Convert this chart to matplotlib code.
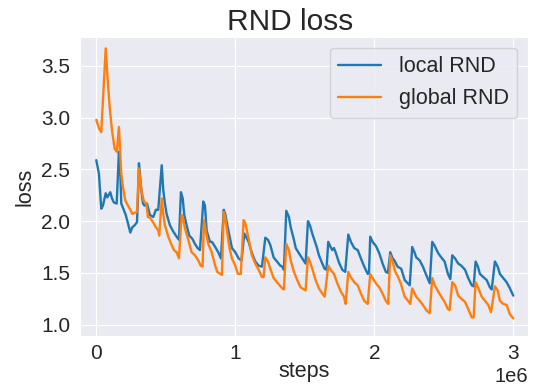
import matplotlib
matplotlib.use("Agg")
from matplotlib import pyplot as plt
import numpy as np
import seaborn as sns

# steps in millions
local_steps = np.array([
    0.000, 0.019, 0.036, 0.048, 0.068, 0.079, 0.101, 0.113, 0.127, 0.147,
    0.163, 0.173, 0.180, 0.197, 0.212, 0.228, 0.245, 0.259, 0.276, 0.293,
    0.300, 0.307, 0.314, 0.324, 0.336, 0.348, 0.365, 0.386, 0.410, 0.429,
    0.446, 0.471, 0.482, 0.494, 0.506, 0.530, 0.554, 0.578, 0.595, 0.609,
    0.622, 0.633, 0.650, 0.669, 0.691, 0.710, 0.729, 0.746, 0.770, 0.782,
    0.794, 0.818, 0.832, 0.856, 0.881, 0.897, 0.917, 0.928, 0.940, 0.964,
    0.976, 1.000, 1.024, 1.045, 1.065, 1.077, 1.096, 1.120, 1.144, 1.168,
    1.192, 1.216, 1.235, 1.252, 1.276, 1.300, 1.324, 1.338, 1.350, 1.367,
    1.386, 1.399, 1.422, 1.435, 1.458, 1.482, 1.506, 1.523, 1.537, 1.554,
    1.566, 1.586, 1.602, 1.626, 1.643, 1.656, 1.669, 1.686, 1.698, 1.710,
    1.722, 1.746, 1.770, 1.791, 1.813, 1.832, 1.856, 1.881, 1.904, 1.928,
    1.953, 1.962, 1.971, 1.988, 2.012, 2.036, 2.060, 2.083, 2.098, 2.115,
    2.132, 2.145, 2.168, 2.194, 2.219, 2.255, 2.273, 2.289, 2.302, 2.327,
    2.350, 2.374, 2.399, 2.417, 2.435, 2.460, 2.482, 2.506, 2.530, 2.547,
    2.561, 2.581, 2.604, 2.626, 2.653, 2.676, 2.701, 2.715, 2.729, 2.746,
    2.760, 2.784, 2.809, 2.832, 2.845, 2.868, 2.888, 2.904, 2.928, 2.952,
    2.976, 3.000,
])
local_loss = np.array([
    2.59, 2.46, 2.12, 2.15, 2.27, 2.23, 2.28, 2.22, 2.18, 2.17,
    2.67, 2.46, 2.17, 2.11, 2.06, 1.98, 1.89, 1.94, 1.96, 1.99,
    2.23, 2.56, 2.46, 2.30, 2.17, 2.15, 2.17, 2.06, 2.04, 2.11,
    2.11, 2.54, 2.30, 2.17, 2.07, 1.96, 1.90, 1.85, 1.82, 2.28,
    2.22, 2.06, 1.96, 1.86, 1.83, 1.78, 1.74, 1.72, 2.19, 2.15,
    1.91, 1.80, 1.80, 1.75, 1.69, 1.64, 2.11, 2.07, 1.98, 1.82,
    1.74, 1.70, 1.64, 1.62, 1.88, 1.85, 1.80, 1.69, 1.61, 1.57,
    1.56, 1.84, 1.82, 1.77, 1.65, 1.61, 1.57, 1.56, 1.53, 2.10,
    2.04, 1.94, 1.82, 1.74, 1.69, 1.64, 1.59, 2.00, 1.96, 1.88,
    1.83, 1.75, 1.67, 1.59, 1.54, 1.53, 1.80, 1.75, 1.72, 1.74,
    1.70, 1.60, 1.53, 1.51, 1.87, 1.80, 1.74, 1.72, 1.64, 1.56,
    1.49, 1.50, 1.85, 1.80, 1.76, 1.69, 1.59, 1.51, 1.50, 1.70,
    1.64, 1.62, 1.56, 1.54, 1.43, 1.38, 1.75, 1.70, 1.65, 1.62,
    1.56, 1.48, 1.40, 1.80, 1.76, 1.69, 1.65, 1.61, 1.49, 1.44,
    1.67, 1.64, 1.59, 1.57, 1.53, 1.45, 1.38, 1.37, 1.61, 1.56,
    1.49, 1.46, 1.43, 1.36, 1.34, 1.61, 1.56, 1.49, 1.45, 1.41,
    1.35, 1.28,
])

global_steps = np.array([
    0.000, 0.019, 0.036, 0.068, 0.079, 0.096, 0.113, 0.132, 0.148, 0.163,
    0.173, 0.180, 0.192, 0.209, 0.228, 0.245, 0.259, 0.276, 0.293, 0.307,
    0.316, 0.329, 0.343, 0.360, 0.372, 0.389, 0.408, 0.429, 0.446, 0.453,
    0.471, 0.482, 0.494, 0.518, 0.542, 0.559, 0.578, 0.595, 0.614, 0.624,
    0.638, 0.662, 0.686, 0.710, 0.734, 0.751, 0.765, 0.775, 0.787, 0.806,
    0.830, 0.856, 0.870, 0.892, 0.904, 0.917, 0.928, 0.940, 0.957, 0.976,
    1.000, 1.019, 1.040, 1.060, 1.072, 1.096, 1.120, 1.144, 1.168, 1.192,
    1.204, 1.216, 1.235, 1.252, 1.276, 1.300, 1.338, 1.350, 1.367, 1.386,
    1.399, 1.422, 1.446, 1.470, 1.506, 1.523, 1.537, 1.554, 1.578, 1.602,
    1.626, 1.643, 1.669, 1.686, 1.710, 1.734, 1.759, 1.782, 1.794, 1.813,
    1.830, 1.856, 1.881, 1.904, 1.928, 1.953, 1.971, 1.988, 2.012, 2.036,
    2.060, 2.083, 2.100, 2.115, 2.132, 2.151, 2.168, 2.190, 2.219, 2.243,
    2.259, 2.273, 2.302, 2.327, 2.350, 2.374, 2.399, 2.417, 2.435, 2.460,
    2.482, 2.506, 2.530, 2.542, 2.561, 2.581, 2.604, 2.626, 2.653, 2.676,
    2.701, 2.715, 2.729, 2.746, 2.773, 2.796, 2.820, 2.840, 2.868, 2.888,
    2.904, 2.928, 2.952, 2.976, 3.000,
])
global_loss = np.array([
    2.98, 2.90, 2.86, 3.67, 3.43, 3.11, 2.88, 2.70, 2.67, 2.91,
    2.65, 2.46, 2.33, 2.20, 2.15, 2.11, 2.07, 2.08, 2.09, 2.51,
    2.40, 2.27, 2.19, 2.17, 2.04, 2.03, 1.99, 1.94, 1.91, 1.86,
    2.22, 2.07, 1.96, 1.85, 1.77, 1.72, 1.70, 1.64, 2.06, 2.03,
    1.93, 1.82, 1.70, 1.67, 1.62, 1.57, 1.56, 2.01, 1.91, 1.78,
    1.70, 1.57, 1.51, 1.49, 1.48, 2.09, 2.03, 1.91, 1.75, 1.64,
    1.57, 1.49, 1.49, 2.01, 1.98, 1.83, 1.67, 1.59, 1.53, 1.46,
    1.46, 1.65, 1.61, 1.54, 1.45, 1.41, 1.35, 1.34, 1.78, 1.72,
    1.62, 1.51, 1.43, 1.36, 1.33, 1.65, 1.61, 1.54, 1.43, 1.35,
    1.30, 1.27, 1.57, 1.53, 1.49, 1.40, 1.32, 1.27, 1.20, 1.51,
    1.46, 1.41, 1.38, 1.30, 1.23, 1.20, 1.49, 1.45, 1.40, 1.36,
    1.30, 1.23, 1.20, 1.67, 1.61, 1.51, 1.47, 1.40, 1.27, 1.23,
    1.20, 1.35, 1.27, 1.23, 1.19, 1.14, 1.11, 1.45, 1.38, 1.32,
    1.27, 1.22, 1.15, 1.14, 1.41, 1.38, 1.28, 1.25, 1.22, 1.15,
    1.07, 1.07, 1.41, 1.36, 1.27, 1.23, 1.19, 1.12, 1.37, 1.33,
    1.23, 1.20, 1.19, 1.10, 1.06,
])

sns.set_style("darkgrid")
plt.rcParams['font.family'] = ['Liberation Sans', 'DejaVu Sans']

fig = plt.figure(figsize=(5.33, 3.89), dpi=100)
ax = fig.add_axes([80 / 533, 1 - 336 / 389, 448 / 533, 299 / 389])

ax.plot(local_steps * 1e6, local_loss, color='#1f77b4', lw=1.7, label='local RND')
ax.plot(global_steps * 1e6, global_loss, color='#ff7f0e', lw=1.7, label='global RND')

ax.set_xlim(-0.117e6, 3.106e6)
ax.set_ylim(0.89, 3.78)
ax.set_xticks([0, 1e6, 2e6, 3e6])
ax.set_yticks([1.0, 1.5, 2.0, 2.5, 3.0, 3.5])
ax.tick_params(labelsize=15)
ax.tick_params(axis='x', pad=2)
ax.xaxis.get_offset_text().set_fontsize(14.5)

ax.set_title("RND loss", fontsize=21.5, x=0.47, pad=5)
ax.set_xlabel("steps", fontsize=15.5, labelpad=-1)
ax.set_ylabel("loss", fontsize=15.5)
ax.legend(loc='upper right', fontsize=15.5)

fig.savefig("out.png", dpi=100)
